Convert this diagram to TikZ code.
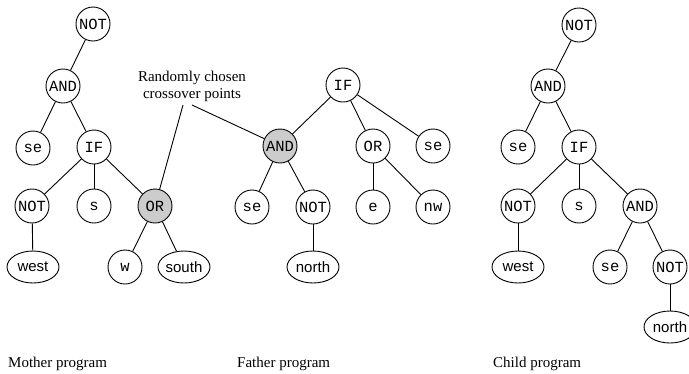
\documentclass[tikz,border=0pt]{standalone}
\usepackage{fontspec}
\setmainfont{Liberation Serif}
\setsansfont{Liberation Sans}
\setmonofont{Liberation Mono}
\usetikzlibrary{shapes.geometric}
\tikzset{
  fn/.style={circle,draw,line width=0.9pt,minimum size=34pt,inner sep=0pt,
    font=\fontsize{15.5}{15.5}\selectfont\ttfamily},
  hit/.style={fn,fill=black!20},
  term/.style={ellipse,draw,line width=0.9pt,minimum width=52pt,minimum height=32pt,inner sep=0pt,
    font=\fontsize{15}{15}\selectfont\sffamily},
  captext/.style={anchor=west,inner sep=0pt,font=\fontsize{15}{17}\selectfont},
  link/.style={line width=0.9pt}
}
\begin{document}
\begin{tikzpicture}[x=1pt,y=-1pt]
\useasboundingbox (0,0) rectangle (689,373);
% Mother
\node[fn] (m1) at (93,24) {NOT};
\node[fn] (m2) at (63,86) {AND};
\node[fn] (m3) at (33,148) {se};
\node[fn] (m4) at (94,147) {IF};
\node[fn] (m5) at (32,206) {NOT};
\node[fn] (m6) at (94,206) {s};
\node[hit] (m7) at (155,206) {OR};
\node[term] (m8) at (33,267) {west};
\node[fn] (m9) at (125,267) {w};
\node[term] (m10) at (184,267) {south};
\draw[link] (m1) -- (m2);
\draw[link] (m2) -- (m3);
\draw[link] (m2) -- (m4);
\draw[link] (m4) -- (m5);
\draw[link] (m4) -- (m6);
\draw[link] (m4) -- (m7);
\draw[link] (m5) -- (m8);
\draw[link] (m7) -- (m9);
\draw[link] (m7) -- (m10);
% Father
\node[fn] (f1) at (343,85) {IF};
\node[hit] (f2) at (280,146) {AND};
\node[fn] (f3) at (373,146) {OR};
\node[fn] (f4) at (433,146) {se};
\node[fn] (f5) at (252,207) {se};
\node[fn] (f6) at (313,207) {NOT};
\node[fn] (f7) at (373,207) {e};
\node[fn] (f8) at (433,207) {nw};
\node[term] (f9) at (313,267) {north};
\draw[link] (f1) -- (f2);
\draw[link] (f1) -- (f3);
\draw[link] (f1) -- (f4);
\draw[link] (f2) -- (f5);
\draw[link] (f2) -- (f6);
\draw[link] (f3) -- (f7);
\draw[link] (f3) -- (f8);
\draw[link] (f6) -- (f9);
% Child
\node[fn] (c1) at (579,25) {NOT};
\node[fn] (c2) at (548,86) {AND};
\node[fn] (c3) at (518,147) {se};
\node[fn] (c4) at (579,147) {IF};
\node[fn] (c5) at (518,206) {NOT};
\node[fn] (c6) at (579,206) {s};
\node[fn] (c7) at (640,206) {AND};
\node[term] (c8) at (518,267) {west};
\node[fn] (c9) at (610,267) {se};
\node[fn] (c10) at (670,267) {NOT};
\node[term] (c11) at (670,327) {north};
\draw[link] (c1) -- (c2);
\draw[link] (c2) -- (c3);
\draw[link] (c2) -- (c4);
\draw[link] (c4) -- (c5);
\draw[link] (c4) -- (c6);
\draw[link] (c4) -- (c7);
\draw[link] (c5) -- (c8);
\draw[link] (c7) -- (c9);
\draw[link] (c7) -- (c10);
\draw[link] (c10) -- (c11);
% Label
\node[align=center,inner sep=0pt,font=\fontsize{15}{17}\selectfont] (lbl) at (192,86) {Randomly chosen\\crossover points};
\coordinate (la) at (183,105);
\coordinate (lb) at (192,105);
\draw[link] (la) -- (m7);
\draw[link] (lb) -- (f2);
% Captions
\node[captext] (cm) at (8,364) {Mother program};
\node[captext] (cf) at (237,364) {Father program};
\node[captext] (cc) at (493,364) {Child program};
\end{tikzpicture}
\end{document}
